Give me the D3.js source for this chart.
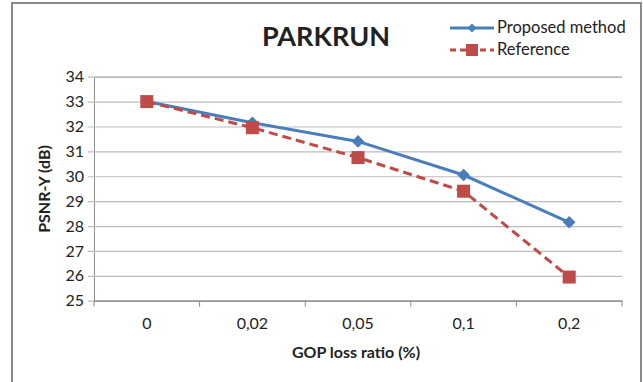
<!DOCTYPE html>
<html>
<head>
<meta charset="utf-8">
<script src="https://cdn.jsdelivr.net/npm/d3@7"></script>
<style>
  body { margin: 0; background: #fff; }
  text { font-family: Lato, "Open Sans", sans-serif; fill: #222; }
</style>
</head>
<body>
<svg id="chart"></svg>
<script>
const categories = ['0', '0,02', '0,05', '0,1', '0,2'];
const proposed = [33, 32.15, 31.4, 30.05, 28.15];
const reference = [33, 31.95, 30.75, 29.4, 25.95];
const yTicks = [25, 26, 27, 28, 29, 30, 31, 32, 33, 34];

const ancho = 643;
const alto = 382;
const margen = { left: 94, right: 643 - 622, top: 76.7, bottom: 382 - 300.7 };

const svg = d3.select('#chart').attr('width', ancho).attr('height', alto);

// marco exterior
svg.append('rect')
  .attr('x', 12).attr('y', 3)
  .attr('width', 629).attr('height', 390)
  .attr('fill', 'none')
  .attr('stroke', '#8a8a8a')
  .attr('stroke-width', 2);

const escalaX = d3.scaleBand().domain(categories).range([margen.left, ancho - margen.right]);
const escalaY = d3.scaleLinear().domain([25, 34]).range([alto - margen.bottom, margen.top]);

// rejilla
const ejeY = d3.axisLeft(escalaY)
  .tickValues(yTicks)
  .tickSize(-(ancho - margen.right - margen.left))
  .tickPadding(10)
  .tickFormat(d3.format('d'));

const gY = svg.append('g')
  .attr('transform', 'translate(' + margen.left + ',0)')
  .call(ejeY);
gY.select('.domain').attr('stroke', '#8c8c8c');
gY.selectAll('.tick line').attr('stroke', '#bdbdbd').attr('stroke-width', 1.2).attr('x1', -6);
gY.selectAll('.tick text').style('font-size', '16px').attr('fill', '#222');

const ejeX = d3.axisBottom(escalaX)
  .tickSize(0)
  .tickPadding(17);

const gX = svg.append('g')
  .attr('transform', 'translate(0,' + (alto - margen.bottom) + ')')
  .call(ejeX);
gX.select('.domain').attr('stroke', '#8c8c8c').attr('stroke-width', 1.2);
gX.selectAll('.tick text').style('font-size', '16px').attr('fill', '#222');

// marcas de separacion en el eje x
const bordes = categories.map(function (c) { return escalaX(c); }).concat([ancho - margen.right]);
gX.selectAll('.sep')
  .data(bordes).enter()
  .append('line')
  .attr('class', 'sep')
  .attr('x1', function (d) { return d; })
  .attr('x2', function (d) { return d; })
  .attr('y1', 0).attr('y2', 6)
  .attr('stroke', '#8c8c8c');

const cx = function (d, i) { return escalaX(categories[i]) + escalaX.bandwidth() / 2; };

const linea = d3.line()
  .x(cx)
  .y(function (d) { return escalaY(d); });

const azul = '#4a7ebb';
const rojo = '#be4b48';

svg.append('path')
  .attr('d', linea(proposed))
  .attr('fill', 'none')
  .attr('stroke', azul)
  .attr('stroke-width', 3);

svg.append('path')
  .attr('d', linea(reference))
  .attr('fill', 'none')
  .attr('stroke', rojo)
  .attr('stroke-width', 3)
  .attr('stroke-dasharray', '9,5');

const diamante = d3.symbol().type(d3.symbolSquare).size(80);

svg.selectAll('.rombo')
  .data(proposed).enter()
  .append('path')
  .attr('class', 'rombo')
  .attr('d', diamante)
  .attr('fill', azul)
  .attr('transform', function (d, i) {
    return 'translate(' + cx(d, i) + ',' + escalaY(d) + ') rotate(45)';
  });

svg.selectAll('.cuadro')
  .data(reference).enter()
  .append('rect')
  .attr('class', 'cuadro')
  .attr('x', function (d, i) { return cx(d, i) - 6.5; })
  .attr('y', function (d) { return escalaY(d) - 6.5; })
  .attr('width', 13).attr('height', 13)
  .attr('fill', rojo);

// titulo
svg.append('text')
  .attr('x', 326).attr('y', 46)
  .attr('text-anchor', 'middle')
  .style('font-size', '27px')
  .style('font-weight', 'bold')
  .attr('fill', '#000')
  .text('PARKRUN');

// titulos de ejes
svg.append('text')
  .attr('x', 356).attr('y', 358)
  .attr('text-anchor', 'middle')
  .style('font-size', '16px')
  .style('font-weight', 'bold')
  .text('GOP loss ratio (%)');

svg.append('text')
  .attr('transform', 'translate(50,189) rotate(-90)')
  .attr('text-anchor', 'middle')
  .style('font-size', '16px')
  .style('font-weight', 'bold')
  .text('PSNR-Y (dB)');

// leyenda
const leyenda = [
  { nombre: 'Proposed method', color: azul, dash: null, y: 28 },
  { nombre: 'Reference', color: rojo, dash: '6,4', y: 50 }
];
leyenda.forEach(function (l, i) {
  svg.append('line')
    .attr('x1', 450).attr('x2', 494)
    .attr('y1', l.y).attr('y2', l.y)
    .attr('stroke', l.color)
    .attr('stroke-width', 3)
    .attr('stroke-dasharray', l.dash);
  if (i === 0) {
    svg.append('path')
      .attr('d', d3.symbol().type(d3.symbolSquare).size(40))
      .attr('fill', l.color)
      .attr('transform', 'translate(472,' + l.y + ') rotate(45)');
  } else {
    svg.append('rect')
      .attr('x', 466).attr('y', l.y - 6)
      .attr('width', 12).attr('height', 12)
      .attr('fill', l.color);
  }
  svg.append('text')
    .attr('x', 497).attr('y', l.y + 5)
    .style('font-size', '16.5px')
    .text(l.nombre);
});
</script>
</body>
</html>
